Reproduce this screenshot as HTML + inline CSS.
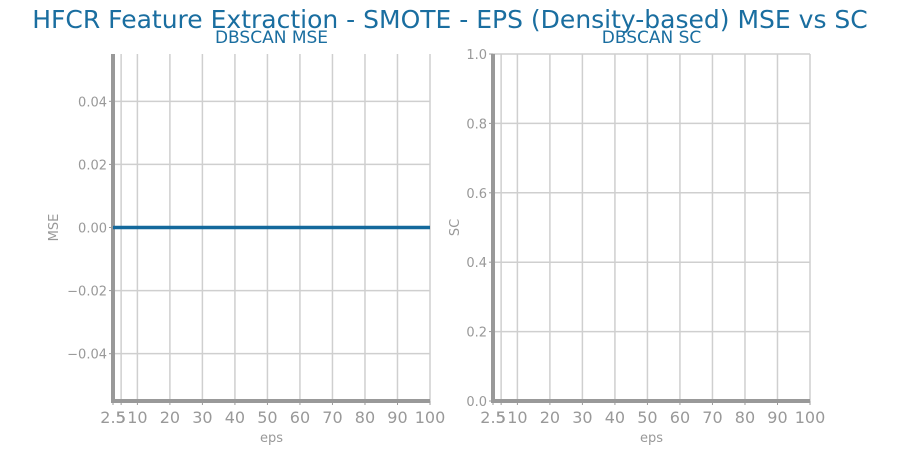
<!DOCTYPE html>
<html><head><meta charset="utf-8"><style>
body{margin:0;background:#fff;}
svg{display:block;font-family:"DejaVu Sans","Liberation Sans",sans-serif;}
</style></head><body>
<svg id="c" width="900" height="450">
<text x="450" y="28" text-anchor="middle" font-size="25" fill="#1a6ea0">HFCR Feature Extraction - SMOTE - EPS (Density-based) MSE vs SC</text>
</svg>
<script>
const xTicks=[2.5,5,10,20,30,40,50,60,70,80,90,100];
const xTickLabels=["2.5","5","10","20","30","40","50","60","70","80","90","100"];
const mseTicks=[-0.04,-0.02,0.00,0.02,0.04];
const mseTickLabels=["\u22120.04","\u22120.02","0.00","0.02","0.04"];
const scTicks=[0,0.2,0.4,0.6,0.8,1.0];
const scTickLabels=["0.0","0.2","0.4","0.6","0.8","1.0"];
const epsValues=[2.5,5,10,20,30,40,50,60,70,80,90,100];
const mseValues=[0,0,0,0,0,0,0,0,0,0,0,0];
const scValues=[];
const NS="http://www.w3.org/2000/svg";
const svg=document.getElementById('c');
function mk(t,a,p){const e=document.createElementNS(NS,t);for(const k in a)e.setAttribute(k,a[k]);(p||svg).appendChild(e);return e;}
function panel(L,R,T,B,ymin,ymax,yt,ytl,title,ylab,ylx,vals,key){
  const g=mk('g',{});
  
  
  const xs=v=>L+(v-2.5)/(100-2.5)*(R-L);
  const ys=v=>B-(v-ymin)/(ymax-ymin)*(B-T);
  xTicks.forEach((v,i)=>{
    const l=mk('line',{x1:xs(v),x2:xs(v),y1:T,y2:B,stroke:'#cfcfcf','stroke-width':1.5},g);
    
    
    mk('line',{x1:xs(v),x2:xs(v),y1:B,y2:B+4,stroke:'#999','stroke-width':1},g);
    const t=mk('text',{x:xs(v),y:B+22,'text-anchor':'middle','font-size':16,fill:'#999'},g);
    t.textContent=xTickLabels[i];
    
    
  });
  yt.forEach((v,i)=>{
    mk('line',{x1:L,x2:R,y1:ys(v),y2:ys(v),stroke:'#cfcfcf','stroke-width':1.5},g);
    mk('line',{x1:L-4,x2:L,y1:ys(v),y2:ys(v),stroke:'#999','stroke-width':1},g);
    const t=mk('text',{x:L-6,y:ys(v)+5,'text-anchor':'end','font-size':13,fill:'#999'},g);
    t.textContent=ytl[i];
    
    
  });
  mk('line',{x1:L,x2:L,y1:T,y2:B+2,stroke:'#999','stroke-width':4},g);
  mk('line',{x1:L,x2:R,y1:B,y2:B,stroke:'#999','stroke-width':4},g);
  if(vals.length){
    const pts=vals.map((v,i)=>xs(epsValues[i])+','+ys(v)).join(' ');
    const pl=mk('polyline',{points:pts,fill:'none',stroke:'#14699c','stroke-width':3.5},g);
    
    
  }
  const tt=mk('text',{x:(L+R)/2,y:T-11,'text-anchor':'middle','font-size':17,fill:'#1a6ea0'},g);
  tt.textContent=title;
  
  
  const xl=mk('text',{x:(L+R)/2,y:B+41,'text-anchor':'middle','font-size':13,fill:'#999'},g);
  xl.textContent='eps';
  
  
  const cy=(T+B)/2;
  const yl=mk('text',{x:ylx,y:cy,'text-anchor':'middle','font-size':13,fill:'#999',transform:`rotate(-90 ${ylx} ${cy})`},g);
  yl.textContent=ylab;
  
  
}
panel(113,430,54,401,-0.055,0.055,mseTicks,mseTickLabels,'DBSCAN MSE','MSE',58,mseValues,'mse');
panel(493,810,54,401,0,1,scTicks,scTickLabels,'DBSCAN SC','SC',459,scValues,'sc');
</script>
</body></html>
